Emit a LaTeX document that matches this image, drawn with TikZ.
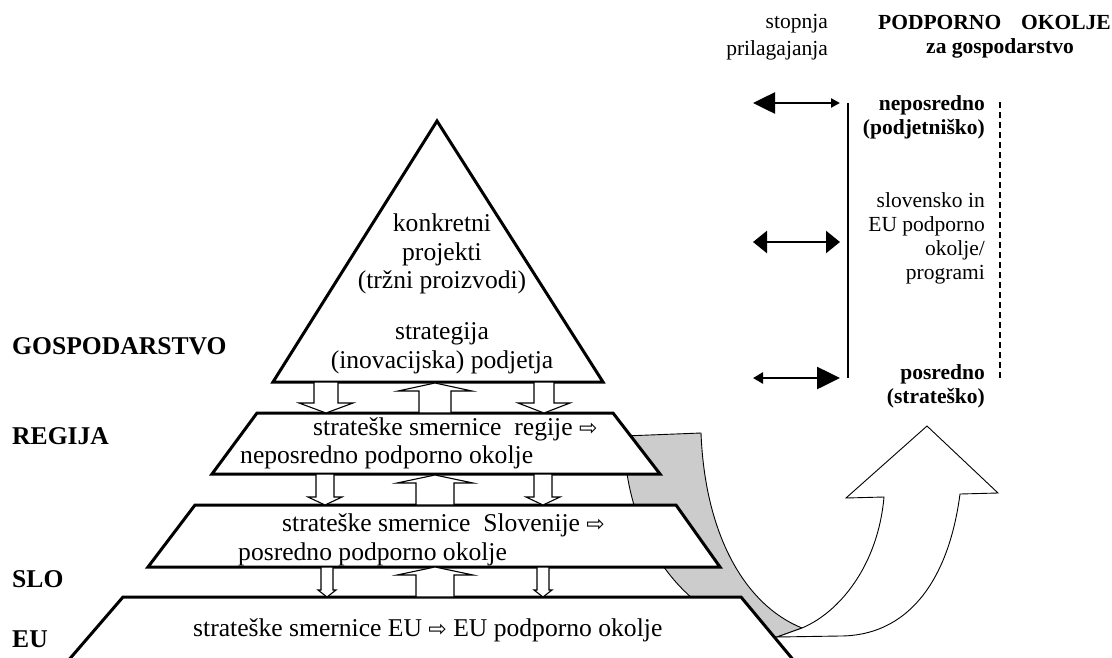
\documentclass[tikz,border=0pt]{standalone}
\usepackage{fontspec}
\setmainfont{Liberation Serif}
\newfontfamily\symfont{DejaVu Sans}
\usetikzlibrary{arrows.meta}
\definecolor{ribbongray}{RGB}{204,204,204}
\newcommand{\wra}{{\symfont\fontsize{22pt}{22pt}\selectfont ⇨}}
\newcommand{\blkdown}[6]{% cx, ytop, ybot, shaft half width, head half width, head length
  \draw[blk] ({#1-#4},{#2}) -- ({#1+#4},{#2}) -- ({#1+#4},{#3-#6}) -- ({#1+#5},{#3-#6})
    -- ({#1},{#3}) -- ({#1-#5},{#3-#6}) -- ({#1-#4},{#3-#6}) -- cycle;}
\newcommand{\blkup}[6]{% cx, ytop(tip), ybot, shaft half width, head half width, head length
  \draw[blk] ({#1},{#2}) -- ({#1+#5},{#2+#6}) -- ({#1+#4},{#2+#6}) -- ({#1+#4},{#3})
    -- ({#1-#4},{#3}) -- ({#1-#4},{#2+#6}) -- ({#1-#5},{#2+#6}) -- cycle;}
\begin{document}
\begin{tikzpicture}[x=1pt,y=-1pt,
  big/.style={font=\fontsize{25.6pt}{29pt}\selectfont, inner sep=0pt, anchor=base},
  bigw/.style={big, anchor=base west},
  lbl/.style={font=\bfseries\fontsize{25.6pt}{29pt}\selectfont, inner sep=0pt, anchor=base west},
  sml/.style={font=\fontsize{21.5pt}{25pt}\selectfont, inner sep=0pt, anchor=base east},
  smlb/.style={font=\bfseries\fontsize{21.5pt}{25pt}\selectfont, inner sep=0pt, anchor=base east},
  level/.style={draw, line width=3pt, fill=white, line join=miter},
  blk/.style={draw, line width=1.1pt, fill=white},
  ribbon/.style={draw, line width=0.9pt, line join=miter},
  dbl/.style={line width=2.6pt},
]
\useasboundingbox (0,0) rectangle (1112,657);

% curved ribbon arrow (back side + front)
\draw[ribbon, fill=ribbongray] (624,436) -- (701,433)
  .. controls (705,535) and (745,605) .. (802,628) -- (777,637)
  .. controls (690,625) and (625,545) .. (624,436) -- cycle;
\draw[ribbon, fill=white] (777,637) -- (802,628)
  .. controls (840,612) and (878,565) .. (884,497) -- (846,498) -- (927,426)
  -- (998,493) -- (960,494) .. controls (948,585) and (905,636) .. (840,636) -- cycle;

% pyramid levels
\draw[level] (123,597) -- (741,597) -- (795,662) -- (67,662) -- cycle;
\draw[level] (195,505) -- (676,505) -- (720,567) -- (148,567) -- cycle;
\draw[level] (257,413) -- (613,413) -- (660,474) -- (212,474) -- cycle;
\draw[level] (437,121) -- (603,382) -- (273,382) -- cycle;

% block arrows between levels
\blkdown{326}{382}{413}{12}{27}{10}
\blkup{435}{383}{413}{16}{37}{8}
\blkdown{544}{382}{413}{10}{26}{10}
\blkdown{325}{474}{505}{9}{17}{8}
\blkup{435}{475}{505}{19}{38}{8}
\blkdown{543}{474}{505}{9}{17}{8}
\blkdown{327}{567}{597}{6}{9}{7}
\blkup{435}{567}{597}{19}{38}{8}
\blkdown{543}{567}{597}{6}{9}{7}

% texts in pyramid
\node[big] (t1) at (442,231) {konkretni};
\node[big] (t2) at (442,260) {projekti};
\node[big] (t3) at (442,288) {(tržni proizvodi)};
\node[big] (t4) at (442,339) {strategija};
\node[big] (t5) at (442,368) {(inovacijska) podjetja};
\node[bigw] (r1) at (313,435) {strateške smernice~ regije \wra};
\node[bigw] (r2) at (240,463) {neposredno podporno okolje};
\node[bigw] (s1) at (282,531) {strateške smernice~ Slovenije \wra};
\node[bigw] (s2) at (238,560) {posredno podporno okolje};
\node[bigw] (e1) at (193,636) {strateške smernice EU \wra\ EU podporno okolje};

% left labels
\node[lbl] (lg) at (12,354) {GOSPODARSTVO};
\node[lbl] (lr) at (12,444) {REGIJA};
\node[lbl] (ls) at (12,587) {SLO};
\node[lbl] (le) at (12,647) {EU};

% top right headers
\node[sml] (h1) at (828,28) {stopnja};
\node[sml] (h2) at (828,55) {prilagajanja};
\node[smlb, anchor=base west] (h3) at (878,29) {PODPORNO\hspace{20pt}OKOLJE};
\node[smlb, anchor=base] (h4) at (1000,53) {za gospodarstvo};

% right side labels
\node[smlb] (n1) at (985,110) {neposredno};
\node[smlb] (n2) at (985,134) {(podjetniško)};
\node[sml] (m1) at (985,207) {slovensko in};
\node[sml] (m2) at (985,231) {EU podporno};
\node[sml] (m3) at (985,255) {okolje/};
\node[sml] (m4) at (985,279) {programi};
\node[smlb] (p1) at (985,379) {posredno};
\node[smlb] (p2) at (985,403) {(strateško)};

% right side lines
\coordinate (vt) at (848,103);
\coordinate (vb) at (848,378);
\draw[line width=1.3pt] (vt) -- (vb);
\coordinate (dt) at (1000,102);
\coordinate (db) at (1000,378);
\draw[line width=2.5pt, dash pattern=on 6pt off 4pt] (dt) -- (db);

% adaptation arrows
\coordinate (a1l) at (753,103); \coordinate (a1r) at (840,103);
\coordinate (a2l) at (753,242); \coordinate (a2r) at (840,242);
\coordinate (a3l) at (753,378); \coordinate (a3r) at (840,378);
\draw[dbl, {Triangle[length=22pt,width=21pt]}-{Triangle[length=9pt,width=9pt]}] (a1l) -- (a1r);
\draw[dbl, {Triangle[length=14pt,width=22pt]}-{Triangle[length=14pt,width=22pt]}] (a2l) -- (a2r);
\draw[dbl, {Triangle[length=10pt,width=11pt]}-{Triangle[length=23pt,width=22pt]}] (a3l) -- (a3r);
\end{tikzpicture}
\end{document}
